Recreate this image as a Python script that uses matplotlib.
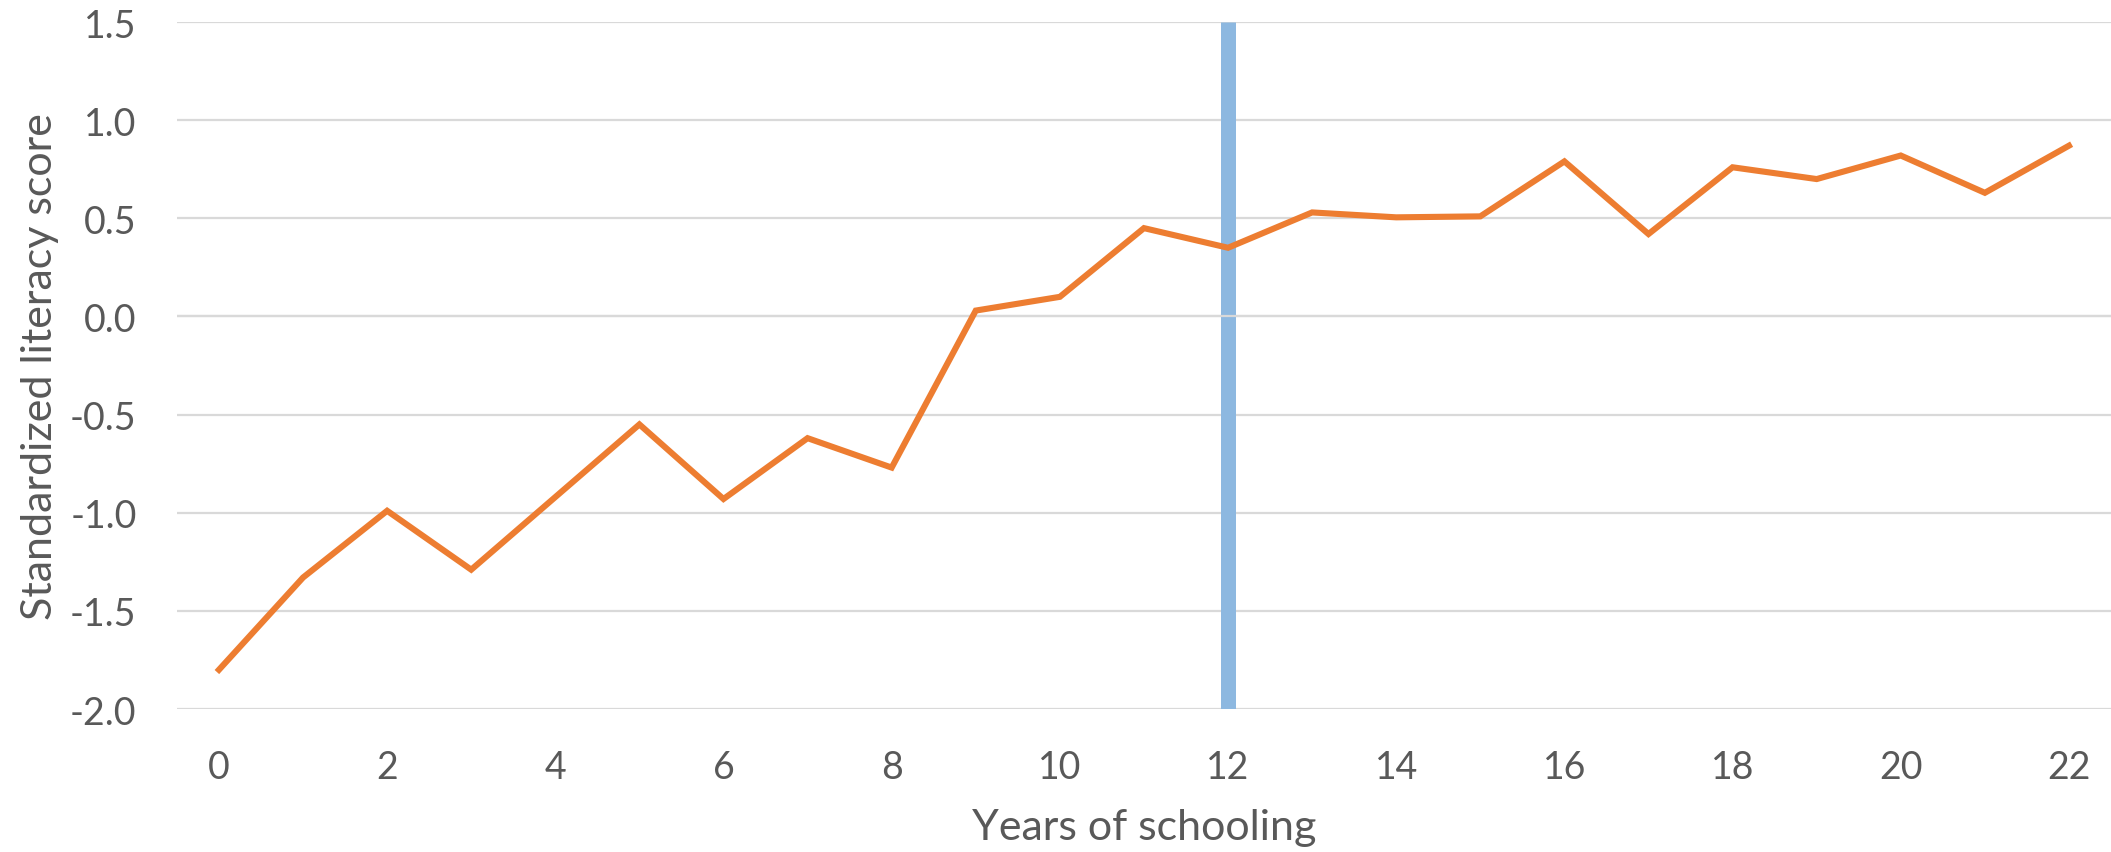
import matplotlib
matplotlib.use("Agg")
from matplotlib import pyplot as plt

# literacy score by years of schooling
years = list(range(23))
scores = [-1.80, -1.33, -0.99, -1.29, -0.92, -0.55, -0.93, -0.62, -0.77, 0.03,
          0.10, 0.45, 0.35, 0.53, 0.505, 0.51, 0.79, 0.42, 0.76, 0.70,
          0.82, 0.63, 0.87]
cutoff_year = 12
y_ticks = [-2.0, -1.5, -1.0, -0.5, 0.0, 0.5, 1.0, 1.5]
x_ticks = list(range(0, 23, 2))

plt.rcParams['font.family'] = ['Lato', 'DejaVu Sans']
text_col = '#595959'
grid_col = '#d9d9d9'

fig = plt.figure(figsize=(21.11, 8.53), dpi=100)
ax = fig.add_axes([0.0838, 0.1676, 0.9162, 0.8054])

for t in y_ticks:
    ax.axhline(t, color=grid_col, lw=1.6, zorder=1)

# vertical marker at the cutoff year
ax.axvline(cutoff_year, color='#8db8e0', lw=10.8, zorder=2, solid_capstyle='butt')
ax.axhline(0.0, color=grid_col, lw=1.6, zorder=3)

ax.plot(years, scores, color='#ed7d31', lw=4.4, zorder=4, solid_joinstyle='miter')

ax.set_xlim(-0.5, 22.5)
ax.set_ylim(-2.0, 1.5)
ax.set_xticks(x_ticks)
ax.set_yticks(y_ticks)
ax.set_yticklabels(["%.1f" % t for t in y_ticks])
ax.tick_params(axis='both', length=0, labelsize=27, colors=text_col)
ax.tick_params(axis='y', pad=29)
ax.tick_params(axis='x', pad=29)
for s in ax.spines.values():
    s.set_visible(False)

ax.set_xlabel("Years of schooling", fontsize=31, color=text_col, labelpad=16)
ax.set_ylabel("Standardized literacy score", fontsize=31, color=text_col, labelpad=8)

fig.savefig("out.png", dpi=100)
